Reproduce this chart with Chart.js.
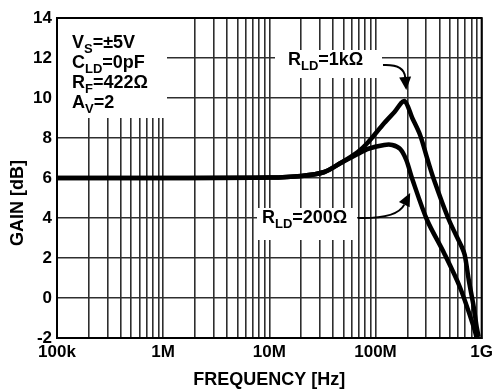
<!DOCTYPE html>
<html>
<head>
<meta charset="utf-8">
<script src="https://cdn.jsdelivr.net/npm/chart.js@4.4.0/dist/chart.umd.min.js"></script>
<style>
html, body { margin: 0; padding: 0; background: #fff; }
#wrap { width: 497px; height: 392px; }
</style>
</head>
<body>
<div id="wrap"><canvas id="gainChart" width="497" height="392"></canvas></div>
<script>
// gain vs frequency, R_LD = 1k
var freq1k = [1e5, 1e6, 1e7, 2e7, 3.3e7, 4.7e7, 6.8e7, 8.4e7, 1.21e8, 1.51e8, 1.87e8, 2.22e8, 2.63e8, 3.06e8, 3.56e8, 4.92e8, 6.5e8, 6.93e8, 7.56e8, 8.42e8, 8.98e8, 9.38e8];
var gain1k = [6.0, 6.0, 6.02, 6.1, 6.3, 6.75, 7.3, 7.75, 8.75, 9.3, 9.85, 9.0, 8.15, 7.0, 5.9, 3.9, 2.55, 2.15, 0.9, -0.45, -1.45, -1.95];

// gain vs frequency, R_LD = 200
var freq200 = [1e5, 1e6, 1e7, 2e7, 3.3e7, 4.7e7, 6.8e7, 8.4e7, 1.21e8, 1.44e8, 1.71e8, 1.95e8, 2.22e8, 3.06e8, 4.42e8, 6.23e8, 8.42e8, 8.98e8];
var gain200 = [6.0, 6.0, 6.02, 6.1, 6.3, 6.75, 7.2, 7.45, 7.65, 7.65, 7.45, 6.9, 5.95, 3.9, 2.25, 0.55, -1.45, -2.0];

// axis ticks
var decadeValues = [1e5, 1e6, 1e7, 1e8, 1e9];
var decadeLabels = ['100k', '1M', '10M', '100M', '1G'];
var gainMin = -2, gainMax = 14, gainStep = 2;

// where the arrows land on each curve
var arrow1kTip = [1.95e8, 10.4];
var arrow200Tip = [2.12e8, 5.25];

var FONT = '"Liberation Sans", Arial, Helvetica, sans-serif';

function toPoints(xs, ys) {
  var pts = [];
  for (var i = 0; i < xs.length; i++) pts.push({ x: xs[i], y: ys[i] });
  return pts;
}

// text with subscripts: parts = [[text, isSub], ...]
function drawRich(ctx, x, y, parts) {
  var cx = x;
  parts.forEach(function (p) {
    ctx.font = 'bold ' + (p[1] ? 13 : 18) + 'px ' + FONT;
    ctx.fillText(p[0], cx, y + (p[1] ? 5 : 0));
    cx += ctx.measureText(p[0]).width;
  });
}

function drawArrow(ctx, from, ctrl, tip) {
  var dx = tip[0] - ctrl[0], dy = tip[1] - ctrl[1];
  var len = Math.sqrt(dx * dx + dy * dy);
  dx /= len; dy /= len;
  var L = 13, W = 6;
  var base = [tip[0] - dx * L, tip[1] - dy * L];
  ctx.beginPath();
  ctx.moveTo(from[0], from[1]);
  ctx.quadraticCurveTo(ctrl[0], ctrl[1], base[0], base[1]);
  ctx.lineWidth = 2;
  ctx.strokeStyle = '#000';
  ctx.stroke();
  ctx.beginPath();
  ctx.moveTo(tip[0], tip[1]);
  ctx.lineTo(base[0] - dy * W, base[1] + dx * W);
  ctx.lineTo(base[0] + dy * W, base[1] - dx * W);
  ctx.closePath();
  ctx.fillStyle = '#000';
  ctx.fill();
}

var notesPlugin = {
  id: 'notes',
  afterDraw: function (chart) {
    var ctx = chart.ctx;
    var area = chart.chartArea;
    var xs = chart.scales.x, ys = chart.scales.y;
    ctx.save();

    // label boxes hide the grid behind them
    ctx.fillStyle = '#fff';
    ctx.fillRect(area.left + 1, area.top + 1, 109, 99);
    ctx.fillRect(275, 50, 107, 28);
    ctx.fillRect(257, 208, 100, 32);

    ctx.fillStyle = '#000';
    ctx.textBaseline = 'alphabetic';
    ctx.textAlign = 'left';
    drawRich(ctx, 72, 48, [['V', 0], ['S', 1], ['=±5V', 0]]);
    drawRich(ctx, 72, 68, [['C', 0], ['LD', 1], ['=0pF', 0]]);
    drawRich(ctx, 72, 88, [['R', 0], ['F', 1], ['=422Ω', 0]]);
    drawRich(ctx, 72, 108, [['A', 0], ['V', 1], ['=2', 0]]);

    drawRich(ctx, 288, 65, [['R', 0], ['LD', 1], ['=1kΩ', 0]]);
    drawRich(ctx, 262, 223, [['R', 0], ['LD', 1], ['=200Ω', 0]]);

    var t1 = [xs.getPixelForValue(arrow1kTip[0]), ys.getPixelForValue(arrow1kTip[1])];
    drawArrow(ctx, [383, 65], [404, 64], t1);
    var t2 = [xs.getPixelForValue(arrow200Tip[0]), ys.getPixelForValue(arrow200Tip[1])];
    drawArrow(ctx, [358, 218], [397, 219], t2);

    // y axis title
    ctx.save();
    ctx.translate(18, 203);
    ctx.rotate(-Math.PI / 2);
    ctx.font = 'bold 18px ' + FONT;
    ctx.textAlign = 'center';
    ctx.textBaseline = 'middle';
    ctx.fillStyle = '#000';
    ctx.fillText('GAIN [dB]', 0, 0);
    ctx.restore();

    // plot frame
    ctx.lineWidth = 2;
    ctx.strokeStyle = '#000';
    ctx.strokeRect(area.left, area.top, area.right - area.left, area.bottom - area.top);
    ctx.restore();
  }
};

Chart.defaults.font.family = FONT;
Chart.defaults.font.weight = 'bold';
Chart.defaults.color = '#000';

var lineStyle = {
  borderColor: '#000',
  borderWidth: 4.5,
  pointRadius: 0,
  fill: false,
  tension: 0.3
};

var ctx = document.getElementById('gainChart').getContext('2d');
var gainChart = new Chart(ctx, {
  type: 'line',
  data: {
    datasets: [
      Object.assign({ label: 'RLD=1k', data: toPoints(freq1k, gain1k) }, lineStyle),
      Object.assign({ label: 'RLD=200', data: toPoints(freq200, gain200) }, lineStyle)
    ]
  },
  options: {
    responsive: false,
    animation: false,
    layout: { padding: { top: 18, right: 12, left: 0, bottom: 0 } },
    plugins: { legend: { display: false }, tooltip: { enabled: false } },
    scales: {
      x: {
        type: 'logarithmic',
        min: 1e5,
        max: 1e9,
        afterBuildTicks: function (scale) {
          var t = [];
          for (var d = 0; d < decadeValues.length; d++) {
            if (d === decadeValues.length - 1) { t.push({ value: decadeValues[d] }); break; }
            for (var m = 1; m <= 9; m++) t.push({ value: decadeValues[d] * m });
          }
          scale.ticks = t;
        },
        afterFit: function (scale) { scale.height = 54; },
        ticks: {
          autoSkip: false,
          maxRotation: 0,
          padding: 4,
          font: { size: 17, weight: 'bold' },
          callback: function (v) {
            var i = decadeValues.indexOf(v);
            return i >= 0 ? decadeLabels[i] : '';
          }
        },
        grid: { color: '#2e2e2e', lineWidth: 1.6, drawTicks: false },
        border: { color: '#000', width: 2 },
        title: {
          display: true,
          text: 'FREQUENCY [Hz]',
          font: { size: 18, weight: 'bold' },
          padding: { top: 0, bottom: 1 }
        }
      },
      y: {
        min: gainMin,
        max: gainMax,
        afterFit: function (scale) { scale.width = 57; },
        ticks: {
          stepSize: gainStep,
          padding: 5,
          font: { size: 17, weight: 'bold' }
        },
        grid: { color: '#2e2e2e', lineWidth: 1.6, drawTicks: false },
        border: { color: '#000', width: 2 }
      }
    }
  },
  plugins: [notesPlugin]
});
</script>
</body>
</html>
